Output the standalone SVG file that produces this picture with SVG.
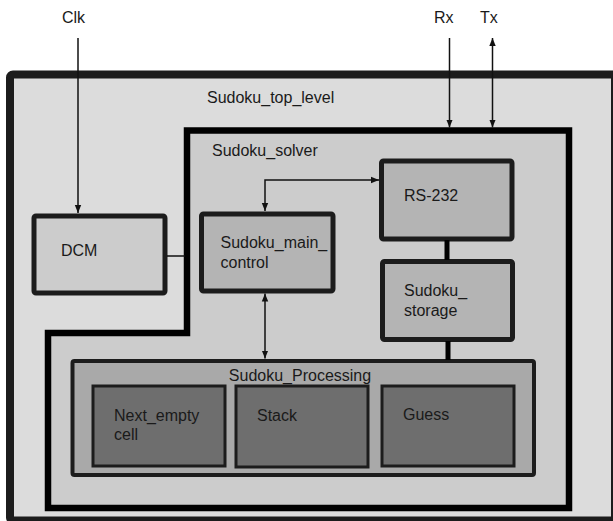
<svg xmlns="http://www.w3.org/2000/svg" width="613" height="521" viewBox="0 0 613 521">
<defs>
<style>
text{font-family:"Liberation Sans",Arial,sans-serif;font-size:16px;fill:#1a1a1a}
.ln{stroke:#111;stroke-width:1.5;fill:none}
.box{stroke:#1c1c1c;stroke-width:5}
</style>
<marker id="ah" viewBox="0 0 10 10" refX="10" refY="5" markerWidth="8" markerHeight="8" markerUnits="userSpaceOnUse" orient="auto-start-reverse">
<path d="M0,1 L10,5 L0,9 z" fill="#111"/>
</marker>
</defs>
<rect width="613" height="521" fill="#fff"/>
<g id="top_level">
<rect x="10" y="74.5" width="605" height="446" rx="3" fill="#dcdcdc" stroke="#1c1c1c" stroke-width="8"/>
<text x="207" y="103">Sudoku_top_level</text>
</g>
<g id="solver">
<path d="M187,130.5 H569 V508 H48 V333 H187 Z" fill="#cccccc" stroke="#000" stroke-width="6.5"/>
<text x="212" y="156">Sudoku_solver</text>
</g>
<g id="dcm">
<rect x="34" y="216" width="131" height="77" rx="2" fill="#cccccc" class="box" stroke-width="6"/>
<text x="61" y="256">DCM</text>
</g>
<g id="main_control">
<rect x="201.5" y="214" width="131.5" height="77" rx="2" fill="#b4b4b4" class="box"/>
<text x="220.5" y="248">Sudoku_main_</text>
<text x="220.5" y="268">control</text>
</g>
<g id="rs232">
<rect x="381.5" y="161" width="130.5" height="78" rx="2" fill="#b4b4b4" class="box"/>
<text x="404" y="201">RS-232</text>
</g>
<g id="storage">
<rect x="382.5" y="261.5" width="130" height="78" rx="2" fill="#b4b4b4" class="box"/>
<text x="404" y="295.5">Sudoku_</text>
<text x="404" y="315.5">storage</text>
</g>
<g id="processing">
<rect x="72.5" y="361" width="461.5" height="114" rx="2" fill="#a9a9a9" stroke="#1c1c1c" stroke-width="4"/>
<text x="300" y="380.5" text-anchor="middle">Sudoku_Processing</text>
</g>
<g id="next_empty">
<rect x="93" y="386" width="132" height="80" fill="#6e6e6e" stroke="#1c1c1c" stroke-width="3"/>
<text x="114" y="420.5">Next_empty</text>
<text x="114" y="440">cell</text>
</g>
<g id="stack">
<rect x="236" y="386" width="132" height="81" fill="#6e6e6e" stroke="#1c1c1c" stroke-width="3"/>
<text x="257" y="421">Stack</text>
</g>
<g id="guess">
<rect x="382" y="386" width="132" height="80" fill="#6e6e6e" stroke="#1c1c1c" stroke-width="3"/>
<text x="403" y="420">Guess</text>
</g>
<g id="connectors">
<line x1="78" y1="38" x2="78" y2="213" class="ln" marker-end="url(#ah)"/>
<line x1="449.5" y1="38" x2="449.5" y2="127.5" class="ln" marker-end="url(#ah)"/>
<line x1="492.5" y1="38" x2="492.5" y2="127.5" class="ln" marker-start="url(#ah)" marker-end="url(#ah)"/>
<path d="M265,211 V180 H379" class="ln" marker-start="url(#ah)" marker-end="url(#ah)"/>
<line x1="265" y1="293.5" x2="265" y2="358.5" class="ln" marker-start="url(#ah)" marker-end="url(#ah)"/>
<line x1="167" y1="256" x2="185" y2="256" class="ln"/>
<line x1="447" y1="240" x2="447" y2="260" stroke="#000" stroke-width="5"/>
<line x1="448" y1="341" x2="448" y2="360" stroke="#000" stroke-width="5"/>
</g>
<g id="labels">
<text x="62" y="23">Clk</text>
<text x="434" y="23">Rx</text>
<text x="480" y="23">Tx</text>
</g>
</svg>
